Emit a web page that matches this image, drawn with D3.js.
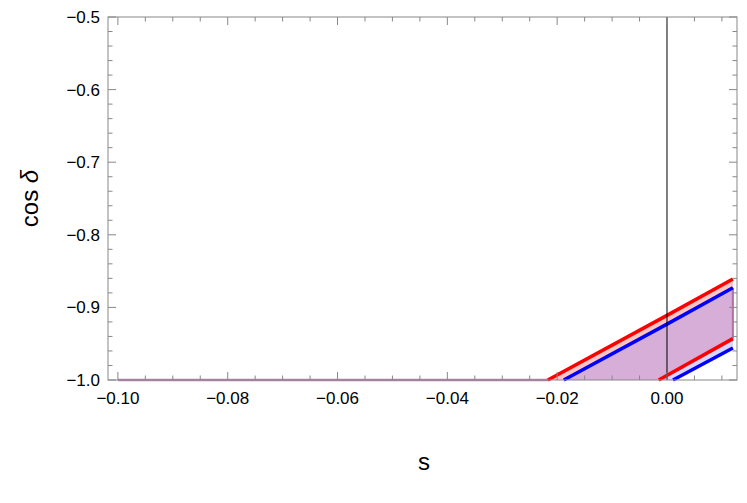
<!DOCTYPE html>
<html><head><meta charset="utf-8">
<script src="https://cdn.jsdelivr.net/npm/d3@7"></script>
<style>body{margin:0;background:#fff}text{font-family:"Liberation Sans",Arial,sans-serif}</style>
</head><body><div id="chart"></div>
<script>
// boundary lines: [s, cos delta]
var redUpper  = [[-0.0217, -1.0], [0.0, -0.911], [0.012, -0.861]];
var blueUpper = [[-0.0188, -1.0], [0.0, -0.923], [0.012, -0.873]];
var redLower  = [[-0.0015, -1.0], [0.012, -0.943]];
var blueLower = [[0.0011, -1.0], [0.012, -0.956]];
var sMin = -0.1, sMax = 0.012;
var xTicks = [-0.10, -0.08, -0.06, -0.04, -0.02, 0.00];
var yTicks = [-1.0, -0.9, -0.8, -0.7, -0.6, -0.5];

var W = 747, H = 503, m = {top: 17, right: 10, bottom: 123, left: 108};
var x = d3.scaleLinear().domain([-0.1018, 0.01275]).range([m.left, W - m.right]);
var y = d3.scaleLinear().domain([-1.0, -0.5]).range([H - m.bottom, m.top]);

var svg = d3.select("#chart").append("svg").attr("width", W).attr("height", H);

function band(up, lo) {
  var top = [[sMin, -1]].concat(up);
  var bot = lo.slice().reverse().concat([[sMin, -1]]);
  return top.concat(bot);
}
var poly = d3.line().x(function(d) { return x(d[0]); }).y(function(d) { return y(d[1]); });

svg.append("path").attr("d", poly(band(redUpper, redLower)) + "Z")
  .attr("fill", "rgb(255,120,120)").attr("fill-opacity", 0.42);
svg.append("path").attr("d", poly(band(blueUpper, blueLower)) + "Z")
  .attr("fill", "rgb(120,120,255)").attr("fill-opacity", 0.3);
svg.append("line").attr("x1", x(sMax)).attr("x2", x(sMax))
  .attr("y1", y(blueUpper[2][1])).attr("y2", y(redLower[1][1]))
  .attr("stroke", "#b070a8").attr("stroke-width", 2);
svg.append("line").attr("x1", x(sMin)).attr("x2", x(redUpper[0][0]))
  .attr("y1", y(-1)).attr("y2", y(-1))
  .attr("stroke", "#b880b0").attr("stroke-width", 2.5);

[[redUpper, "red"], [blueUpper, "blue"], [redLower, "red"], [blueLower, "blue"]].forEach(function(p) {
  svg.append("path").attr("d", poly(p[0])).attr("fill", "none")
    .attr("stroke", p[1] == "red" ? "#f00" : "#00f").attr("stroke-width", 3.5);
});

svg.append("line").attr("x1", x(0)).attr("x2", x(0)).attr("y1", y(-0.5)).attr("y2", y(-1))
  .attr("stroke", "#000").attr("stroke-width", 1);

// frame with ticks
var x0 = m.left, x1 = W - m.right, y0 = H - m.bottom, y1 = m.top;
svg.append("rect").attr("x", x0).attr("y", y1).attr("width", x1 - x0).attr("height", y0 - y1)
  .attr("fill", "none").attr("stroke", "#888").attr("stroke-width", 1);
var g = svg.append("g").attr("stroke", "#888");
d3.range(-0.1, 0.0126, 0.005).forEach(function(v) {
  var major = Math.abs(v * 50 - Math.round(v * 50)) < 1e-6;
  var L = major ? 8 : 4.5, px = x(v);
  g.append("line").attr("x1", px).attr("x2", px).attr("y1", y0).attr("y2", y0 - L);
  g.append("line").attr("x1", px).attr("x2", px).attr("y1", y1).attr("y2", y1 + L);
});
d3.range(-1.0, -0.499, 0.02).forEach(function(v) {
  var major = Math.abs(v * 10 - Math.round(v * 10)) < 1e-6;
  var L = major ? 8 : 4.5, py = y(v);
  g.append("line").attr("x1", x0).attr("x2", x0 + L).attr("y1", py).attr("y2", py);
  g.append("line").attr("x1", x1).attr("x2", x1 - L).attr("y1", py).attr("y2", py);
});
var fmtX = function(v) { return (v < 0 ? "\u2212" : "") + Math.abs(v).toFixed(2); };
var fmtY = function(v) { return (v < 0 ? "\u2212" : "") + Math.abs(v).toFixed(1); };
xTicks.forEach(function(v) {
  svg.append("text").attr("x", x(v)).attr("y", y0 + 24).attr("text-anchor", "middle")
    .attr("font-size", 17).text(fmtX(v));
});
yTicks.forEach(function(v) {
  svg.append("text").attr("x", x0 - 8).attr("y", y(v) + 6).attr("text-anchor", "end")
    .attr("font-size", 17).text(fmtY(v));
});
svg.append("text").attr("x", 424).attr("y", 470).attr("text-anchor", "middle")
  .attr("font-size", 24).text("s");
var yl = svg.append("text").attr("transform", "translate(38," + ((y0 + y1) / 2) + ") rotate(-90)")
  .attr("text-anchor", "middle").attr("font-size", 24);
yl.append("tspan").text("cos ");
yl.append("tspan").attr("font-style", "italic").text("\u03b4");
</script></body></html>
